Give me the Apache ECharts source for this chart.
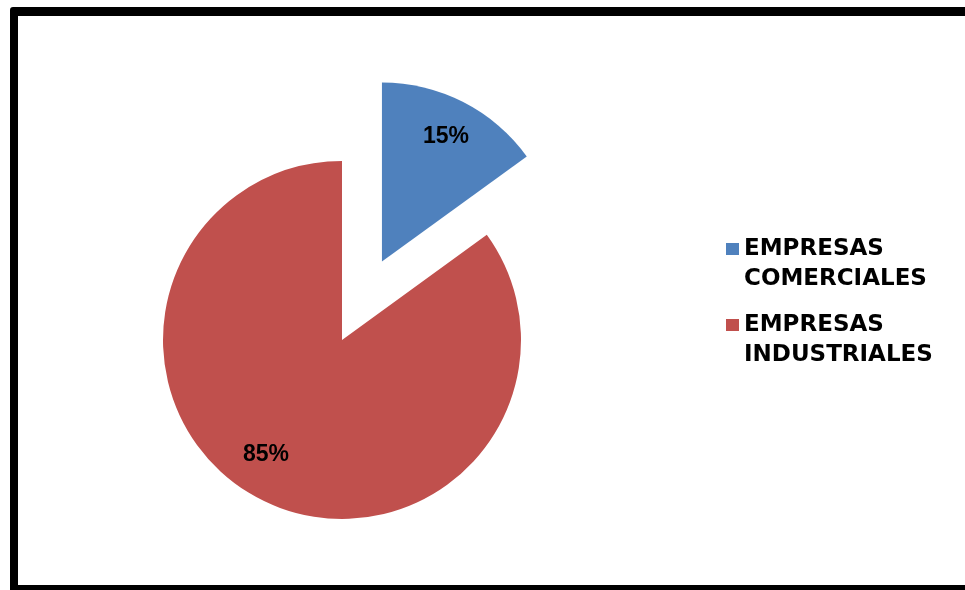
<!DOCTYPE html>
<html>
<head>
<meta charset="utf-8">
<script src="https://cdn.jsdelivr.net/npm/echarts@6/dist/echarts.min.js"></script>
<style>
  html, body { margin: 0; padding: 0; background: #fff; }
  #wrap { position: relative; width: 965px; height: 590px; overflow: hidden; }
  #chart { position: absolute; left: 0; top: 0; width: 965px; height: 590px; }
  /* thick black frame, right side runs off the picture */
  #frame {
    position: absolute; left: 10px; top: 7px; width: 1000px; height: 569px;
    border: 8px solid #000; border-top-width: 9px; border-radius: 3px; pointer-events: none;
  }
</style>
</head>
<body>
<div id="wrap">
  <div id="chart"></div>
  <div id="frame"></div>
</div>
<script>
// data
const categories = ["EMPRESAS COMERCIALES", "EMPRESAS INDUSTRIALES"];
const values = [15, 85];
const colors = ["#4F81BD", "#C0504D"];
const exploded = [true, false];
// label nudges (the original puts labels near the rim)
const labelShift = [[22, -43], [-34, 32]];

const chart = echarts.init(document.getElementById("chart"), null, { renderer: "canvas" });

const option = {
  backgroundColor: "transparent",
  animation: false,
  legend: {
    orient: "vertical",
    left: 721,
    top: 199,
    itemWidth: 13,
    itemHeight: 12,
    itemGap: -14,
    icon: "rect",
    selectedMode: false,
    data: categories,
    // blank first line so the marker sits level with the first word
    formatter: (name) => " \n" + name.replace(" ", "\n"),
    textStyle: {
      fontFamily: "DejaVu Sans, sans-serif",
      fontWeight: "bold",
      fontSize: 23,
      lineHeight: 30,
      color: "#000",
    },
  },
  series: [
    {
      type: "pie",
      center: [342, 340],
      radius: 179,
      startAngle: 90,
      clockwise: true,
      selectedMode: "single",
      selectedOffset: 88,
      emphasis: { disabled: true },
      label: {
        show: true,
        position: "inside",
        formatter: "{d}%",
        fontFamily: "Liberation Sans, Arial, sans-serif",
        fontWeight: "bold",
        fontSize: 23,
        color: "#000",
      },
      labelLine: { show: false },
      labelLayout: (p) => ({ dx: labelShift[p.dataIndex][0], dy: labelShift[p.dataIndex][1] }),
      data: categories.map((name, i) => ({
        name,
        value: values[i],
        selected: exploded[i],
        itemStyle: { color: colors[i] },
        select: { itemStyle: { color: colors[i] }, label: { color: "#000" } },
      })),
    },
  ],
};

chart.setOption(option);
</script>
</body>
</html>
